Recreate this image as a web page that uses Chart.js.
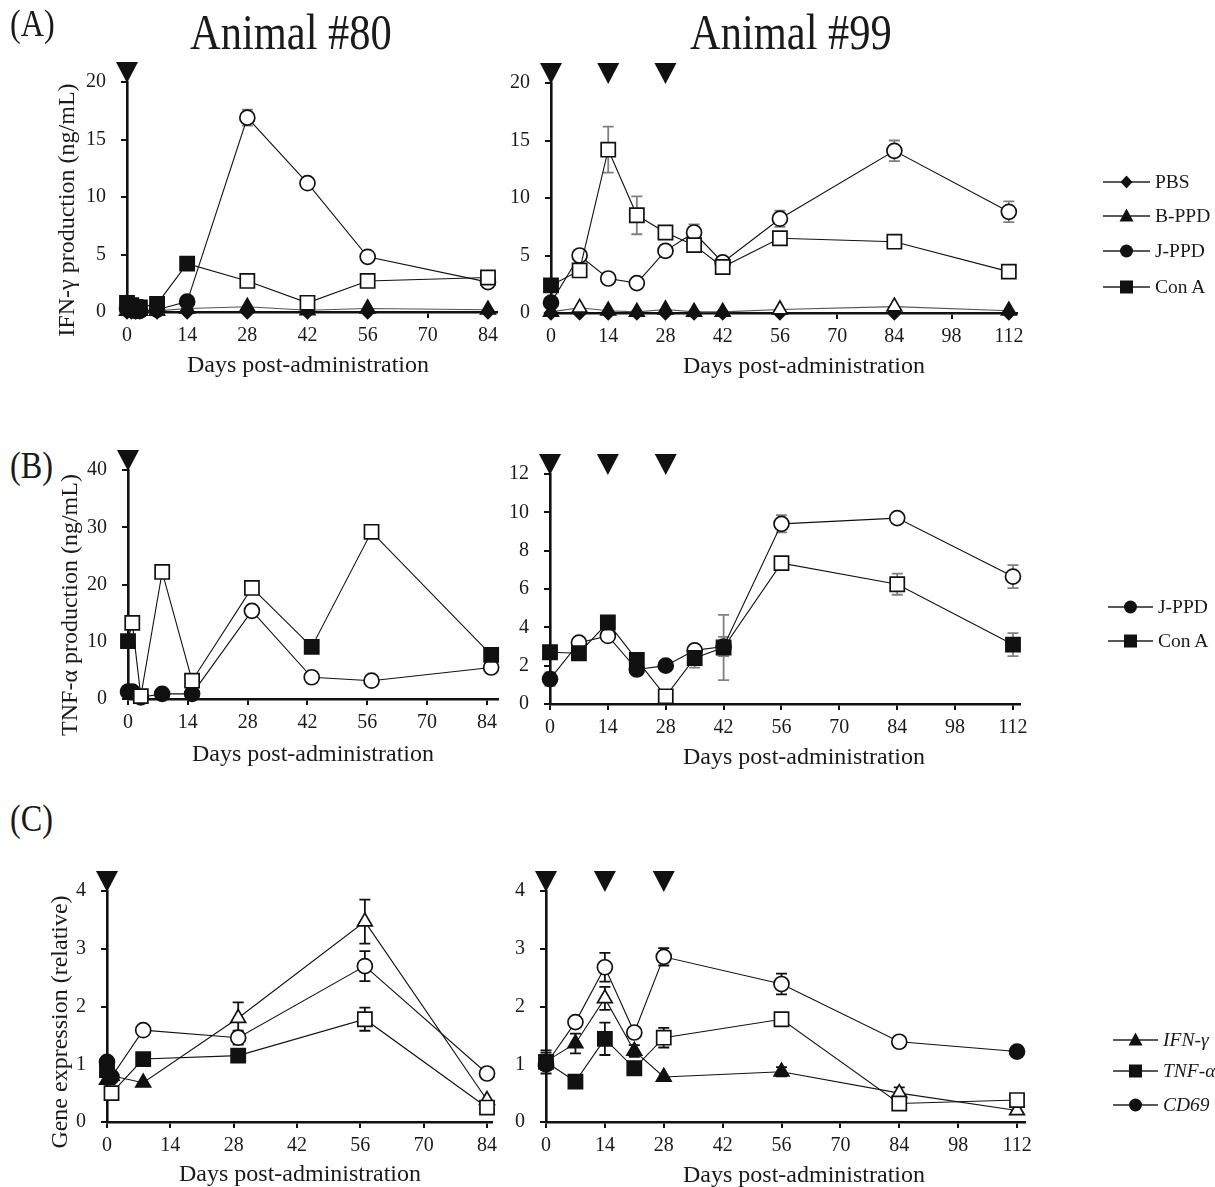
<!DOCTYPE html>
<html><head><meta charset="utf-8">
<script src="https://cdn.jsdelivr.net/npm/chart.js@4.4.1/dist/chart.umd.min.js"></script>
<style>
html,body{margin:0;padding:0;background:#fff;}
body{width:1215px;height:1187px;position:relative;overflow:hidden;font-family:"Liberation Serif","Times New Roman",serif;color:#1a1a1a;}
.t{position:absolute;white-space:nowrap;}
.big{font-size:50px;line-height:50px;transform:scaleX(0.85);transform-origin:left top;}
.lab{font-size:38px;line-height:38px;transform:scaleX(0.85);transform-origin:left top;}
.xt{font-size:24px;line-height:28px;width:400px;text-align:center;}
.yt{font-size:24px;line-height:28px;width:400px;height:28px;text-align:center;transform:rotate(-90deg);}
.lg{font-size:19.5px;line-height:20px;}
svg{position:absolute;left:0;top:0;}
</style></head><body>
<script>
// ---------------- DATA ----------------
const ADMIN_80 = [0];
const ADMIN_99 = [0, 14, 28];

// (A) IFN-γ production, Animal #80
const A80_DAYS = [0, 1, 2, 3, 7, 14, 28, 42, 56, 84];
const A80_PBS  = [0, 0, 0, 0, 0, 0, 0, 0, 0, 0];
const A80_BPPD = [0.1, 0.1, 0.1, 0.1, 0.1, 0.3, 0.45, 0.15, 0.3, 0.2];
const A80_JPPD = [0.3, 0.2, 0.1, 0.1, 0.2, 0.9, 16.9, 11.2, 4.8, 2.6];
const A80_CONA = [0.8, 0.6, 0.45, 0.4, 0.7, 4.2, 2.7, 0.8, 2.7, 3.0];
const A80_JPPD_OPEN = [0, 0, 0, 0, 0, 0, 1, 1, 1, 1];
const A80_CONA_OPEN = [0, 0, 0, 0, 0, 0, 1, 1, 1, 1];
const A80_JPPD_ERR  = [0, 0, 0, 0, 0, 0, 0.7, 0, 0, 0];

// (A) IFN-γ production, Animal #99
const A99_DAYS = [0, 7, 14, 21, 28, 35, 42, 56, 84, 112];
const A99_PBS  = [0, 0, 0, 0, 0, 0, 0, 0, 0, 0];
const A99_BPPD = [0.1, 0.45, 0.2, 0.1, 0.3, 0.1, 0.1, 0.3, 0.55, 0.2];
const A99_BPPD_OPEN = [0, 1, 0, 0, 0, 0, 0, 1, 1, 0];
const A99_JPPD = [0.9, 5.0, 3.0, 2.6, 5.4, 7.0, 4.4, 8.2, 14.1, 8.8];
const A99_JPPD_OPEN = [0, 1, 1, 1, 1, 1, 1, 1, 1, 1];
const A99_JPPD_ERR  = [0, 0, 0, 0, 0.5, 0.7, 0, 0.7, 0.9, 0.9];
const A99_CONA = [2.4, 3.7, 14.2, 8.5, 7.0, 5.9, 4.0, 6.5, 6.2, 3.6];
const A99_CONA_OPEN = [0, 1, 1, 1, 1, 1, 1, 1, 1, 1];
const A99_CONA_ERR  = [0, 0, 2.0, 1.65, 0.5, 0.3, 0.4, 0.4, 0, 0];

// (B) TNF-α production, Animal #80
const B80_DAYS = [0, 1, 3, 8, 15, 29, 43, 57, 85];
const B80_JPPD = [1.3, 1.3, 0.3, 0.9, 0.9, 15.4, 3.8, 3.2, 5.5];
const B80_JPPD_OPEN = [0, 0, 0, 0, 0, 1, 1, 1, 1];
const B80_CONA = [10.1, 13.3, 0.5, 22.2, 3.2, 19.4, 9.1, 29.2, 7.7];
const B80_CONA_OPEN = [0, 1, 1, 1, 1, 1, 0, 1, 0];

// (B) TNF-α production, Animal #99
const B99_DAYS = [0, 7, 14, 21, 28, 35, 42, 56, 84, 112];
const B99_JPPD = [1.3, 3.2, 3.55, 1.8, 2.0, 2.8, 3.0, 9.4, 9.7, 6.65];
const B99_JPPD_OPEN = [0, 1, 1, 0, 0, 1, 1, 1, 1, 1];
const B99_JPPD_ERR  = [0.35, 0, 0, 0.1, 0, 0.2, 0.5, 0.45, 0, 0.6];
const B99_CONA = [2.7, 2.65, 4.25, 2.3, 0.4, 2.4, 2.95, 7.35, 6.25, 3.1];
const B99_CONA_OPEN = [0, 0, 0, 0, 1, 0, 0, 1, 1, 0];
const B99_CONA_ERR  = [0, 0, 0, 0.15, 0, 0.5, 1.7, 0.2, 0.55, 0.6];

// (C) Gene expression, Animal #80
const C80_DAYS = [0, 1, 8, 29, 57, 84];
const C80_IFNG = [0.73, 0.8, 0.68, 1.8, 3.47, 0.38];
const C80_IFNG_OPEN = [0, 0, 0, 1, 1, 1];
const C80_IFNG_ERR  = [0, 0, 0, 0.27, 0.38, 0];
const C80_TNFA = [0.9, 0.5, 1.09, 1.15, 1.78, 0.25];
const C80_TNFA_OPEN = [0, 1, 0, 0, 1, 1];
const C80_TNFA_ERR  = [0, 0, 0, 0, 0.2, 0];
const C80_CD69 = [1.04, 0.78, 1.59, 1.46, 2.7, 0.84];
const C80_CD69_OPEN = [0, 0, 1, 1, 1, 1];
const C80_CD69_ERR  = [0, 0, 0, 0.12, 0.26, 0];

// (C) Gene expression, Animal #99
const C99_DAYS = [0, 7, 14, 21, 28, 56, 84, 112];
const C99_IFNG = [1.05, 1.36, 2.14, 1.23, 0.78, 0.87, 0.5, 0.2];
const C99_IFNG_OPEN = [0, 0, 1, 0, 0, 0, 1, 1];
const C99_IFNG_ERR  = [0.15, 0.17, 0.2, 0.1, 0, 0.08, 0.1, 0];
const C99_TNFA = [1.04, 0.7, 1.44, 0.93, 1.46, 1.78, 0.32, 0.38];
const C99_TNFA_OPEN = [0, 0, 0, 0, 1, 1, 1, 1];
const C99_TNFA_ERR  = [0.2, 0, 0.28, 0.1, 0.17, 0, 0, 0];
const C99_CD69 = [1.0, 1.73, 2.68, 1.55, 2.86, 2.39, 1.39, 1.22];
const C99_CD69_OPEN = [0, 1, 1, 1, 1, 1, 1, 0];
const C99_CD69_ERR  = [0, 0, 0.25, 0, 0.15, 0.18, 0, 0];

const X_STEP = 14;
const Y_MAX_A = 20, Y_STEP_A = 5;
const Y_MAX_B80 = 40, Y_STEP_B80 = 10;
const Y_MAX_B99 = 12, Y_STEP_B99 = 2;
const Y_MAX_C = 4, Y_STEP_C = 1;

// ---------------- PLUGINS ----------------
const errorBars = {
  id: 'errorBars',
  beforeDatasetsDraw(chart, args, opts) {
    const ctx = chart.ctx, ys = chart.scales.y;
    ctx.save();
    ctx.strokeStyle = opts.color || '#808080';
    ctx.lineWidth = 1.8;
    chart.data.datasets.forEach((ds, i) => {
      if (!ds.errors) return;
      const meta = chart.getDatasetMeta(i);
      ds.errors.forEach((e, j) => {
        if (!e) return;
        const v = ds.data[j].y;
        const x = meta.data[j].x;
        const y1 = ys.getPixelForValue(v + e), y2 = ys.getPixelForValue(Math.max(0, v - e));
        ctx.beginPath();
        ctx.moveTo(x, y1); ctx.lineTo(x, y2);
        ctx.moveTo(x - 5.5, y1); ctx.lineTo(x + 5.5, y1);
        ctx.moveTo(x - 5.5, y2); ctx.lineTo(x + 5.5, y2);
        ctx.stroke();
      });
    });
    ctx.restore();
  }
};
const adminMarks = {
  id: 'adminMarks',
  afterDraw(chart, args, opts) {
    if (!opts.days) return;
    const ctx = chart.ctx, xs = chart.scales.x, top = chart.chartArea.top;
    ctx.save();
    ctx.fillStyle = '#111';
    opts.days.forEach(d => {
      const x = xs.getPixelForValue(d);
      ctx.beginPath();
      ctx.moveTo(x - 11, top - 20);
      ctx.lineTo(x + 11, top - 20);
      ctx.lineTo(x, top + 1);
      ctx.closePath();
      ctx.fill();
    });
    ctx.restore();
  }
};
Chart.register(errorBars, adminMarks);

// ---------------- HELPERS ----------------
const STYLE = {
  circle: {pointStyle: 'circle', radius: 7.5},
  square: {pointStyle: 'rect', radius: 10},
  triangle: {pointStyle: 'triangle', radius: 8.5},
  diamond: {pointStyle: 'rectRot', radius: 6.5}
};
function series(days, vals, shape, open, errs, lineColor) {
  const st = STYLE[shape];
  return {
    data: days.map((d, i) => ({x: d, y: vals[i]})),
    errors: errs || null,
    borderColor: lineColor || '#111',
    borderWidth: 1.1,
    tension: 0,
    clip: false,
    pointStyle: st.pointStyle,
    pointRadius: st.radius,
    pointHoverRadius: st.radius,
    pointBorderColor: '#111',
    pointBorderWidth: 1.7,
    pointBackgroundColor: days.map((d, i) => (open && open[i]) ? '#ffffff' : '#111111')
  };
}
const FONT = {family: '"Liberation Serif","Times New Roman",serif', size: 20};
function panel(g, yMax, yStep, xMax, datasets, admin, errColor) {
  const padTop = 38, padRight = 26, yW = 72, xH = 42;
  const cl = g.L - yW, ct = g.T - padTop;
  const cw = (g.R + padRight) - cl, ch = (g.B + xH) - ct;
  const cv = document.createElement('canvas');
  cv.width = cw; cv.height = ch;
  cv.style.cssText = `position:absolute;left:${cl}px;top:${ct}px;width:${cw}px;height:${ch}px;`;
  document.body.appendChild(cv);
  const axisCommon = {
    grid: {display: true, drawOnChartArea: false, drawTicks: true, tickLength: 6, lineWidth: 2, color: '#111'},
    border: {display: true, width: 2.6, color: '#111'}
  };
  new Chart(cv, {
    type: 'line',
    data: {datasets},
    options: {
      responsive: false, animation: false, events: [],
      layout: {padding: {top: padTop, right: padRight, left: 0, bottom: 0}},
      plugins: {legend: {display: false}, tooltip: {enabled: false},
        errorBars: {color: errColor}, adminMarks: {days: admin}},
      scales: {
        x: Object.assign({type: 'linear', min: 0, max: xMax,
          afterFit(s) { s.height = xH; },
          ticks: {stepSize: X_STEP, includeBounds: false, font: FONT, color: '#1a1a1a', padding: 6, maxRotation: 0, autoSkip: false}
        }, axisCommon),
        y: Object.assign({type: 'linear', min: 0, max: yMax,
          afterFit(s) { s.width = yW; },
          ticks: {stepSize: yStep, font: FONT, color: '#1a1a1a', padding: 15}
        }, axisCommon)
      }
    }
  });
}
function text(cls, x, y, s, extra) {
  const d = document.createElement('div');
  d.className = 't ' + cls;
  d.style.left = x + 'px'; d.style.top = y + 'px';
  if (extra) d.style.cssText += extra;
  d.textContent = s;
  document.body.appendChild(d);
  return d;
}

// ---------------- PANELS ----------------
panel({L: 127, R: 497, T: 82, B: 312}, Y_MAX_A, Y_STEP_A, 86.1, [
  series(A80_DAYS, A80_CONA, 'square', A80_CONA_OPEN),
  series(A80_DAYS, A80_JPPD, 'circle', A80_JPPD_OPEN, A80_JPPD_ERR),
  series(A80_DAYS, A80_BPPD, 'triangle', null, null, '#555'),
  series(A80_DAYS, A80_PBS, 'diamond')
], ADMIN_80, '#808080');

panel({L: 551, R: 1017, T: 83, B: 313}, Y_MAX_A, Y_STEP_A, 114, [
  series(A99_DAYS, A99_CONA, 'square', A99_CONA_OPEN, A99_CONA_ERR),
  series(A99_DAYS, A99_JPPD, 'circle', A99_JPPD_OPEN, A99_JPPD_ERR),
  series(A99_DAYS, A99_BPPD, 'triangle', A99_BPPD_OPEN, null, '#555'),
  series(A99_DAYS, A99_PBS, 'diamond')
], ADMIN_99, '#808080');

panel({L: 128, R: 498, T: 470, B: 699}, Y_MAX_B80, Y_STEP_B80, 86.6, [
  series(B80_DAYS, B80_CONA, 'square', B80_CONA_OPEN),
  series(B80_DAYS, B80_JPPD, 'circle', B80_JPPD_OPEN)
], ADMIN_80, '#808080');

panel({L: 550, R: 1020, T: 474, B: 704}, Y_MAX_B99, Y_STEP_B99, 113.7, [
  series(B99_DAYS, B99_CONA, 'square', B99_CONA_OPEN, B99_CONA_ERR),
  series(B99_DAYS, B99_JPPD, 'circle', B99_JPPD_OPEN, B99_JPPD_ERR)
], ADMIN_99, '#808080');

panel({L: 107, R: 492, T: 891, B: 1122}, Y_MAX_C, Y_STEP_C, 85.1, [
  series(C80_DAYS, C80_TNFA, 'square', C80_TNFA_OPEN, C80_TNFA_ERR),
  series(C80_DAYS, C80_IFNG, 'triangle', C80_IFNG_OPEN, C80_IFNG_ERR),
  series(C80_DAYS, C80_CD69, 'circle', C80_CD69_OPEN, C80_CD69_ERR)
], ADMIN_80, '#111');

panel({L: 546, R: 1025, T: 891, B: 1122}, Y_MAX_C, Y_STEP_C, 113.9, [
  series(C99_DAYS, C99_TNFA, 'square', C99_TNFA_OPEN, C99_TNFA_ERR),
  series(C99_DAYS, C99_IFNG, 'triangle', C99_IFNG_OPEN, C99_IFNG_ERR),
  series(C99_DAYS, C99_CD69, 'circle', C99_CD69_OPEN, C99_CD69_ERR)
], ADMIN_99, '#111');

// ---------------- TEXT ----------------
text('lab', 10, 4, '(A)');
text('lab', 10, 446, '(B)');
text('lab', 10, 799, '(C)');
text('big', 190, 7, 'Animal #80');
text('big', 690, 7, 'Animal #99');

const XT = 'Days post-administration';
[[308, 367], [804, 368], [313, 756], [804, 759], [300, 1176], [804, 1177]].forEach(([cx, cy]) => text('xt', cx - 200, cy - 17, XT));
text('yt', 69 - 203, 210 - 14, 'IFN-γ production (ng/mL)');
text('yt', 72 - 203, 605 - 14, 'TNF-α production (ng/mL)');
text('yt', 62 - 203, 1022 - 14, 'Gene expression (relative)');

// ---------------- LEGENDS ----------------
const NS = 'http://www.w3.org/2000/svg';
const svg = document.createElementNS(NS, 'svg');
svg.setAttribute('width', 1215); svg.setAttribute('height', 1187);
document.body.appendChild(svg);
function el(tag, attrs) {
  const e = document.createElementNS(NS, tag);
  for (const k in attrs) e.setAttribute(k, attrs[k]);
  svg.appendChild(e);
}
function legendRow(y, x0, x1, shape, label, italic) {
  el('line', {x1: x0, y1: y, x2: x1, y2: y, stroke: '#222', 'stroke-width': 1.3});
  const cx = (x0 + x1) / 2;
  if (shape === 'circle') el('circle', {cx, cy: y, r: 6.5, fill: '#111'});
  if (shape === 'square') el('rect', {x: cx - 6.5, y: y - 6.5, width: 13, height: 13, fill: '#111'});
  if (shape === 'triangle') el('polygon', {points: `${cx},${y - 7.5} ${cx + 7},${y + 5.5} ${cx - 7},${y + 5.5}`, fill: '#111'});
  if (shape === 'diamond') el('polygon', {points: `${cx},${y - 6.5} ${cx + 6},${y} ${cx},${y + 6.5} ${cx - 6},${y}`, fill: '#111'});
  text('lg', x1 + 5, y - 10, label, italic ? 'font-style:italic;' : '');
}
legendRow(182, 1103, 1150, 'diamond', 'PBS');
legendRow(216, 1103, 1150, 'triangle', 'B-PPD');
legendRow(251, 1103, 1150, 'circle', 'J-PPD');
legendRow(287, 1103, 1150, 'square', 'Con A');
legendRow(607, 1108, 1153, 'circle', 'J-PPD');
legendRow(641, 1108, 1153, 'square', 'Con A');
legendRow(1040, 1113, 1158, 'triangle', 'IFN-γ', true);
legendRow(1071, 1113, 1158, 'square', 'TNF-α', true);
legendRow(1105, 1113, 1158, 'circle', 'CD69', true);
</script>
</body></html>
